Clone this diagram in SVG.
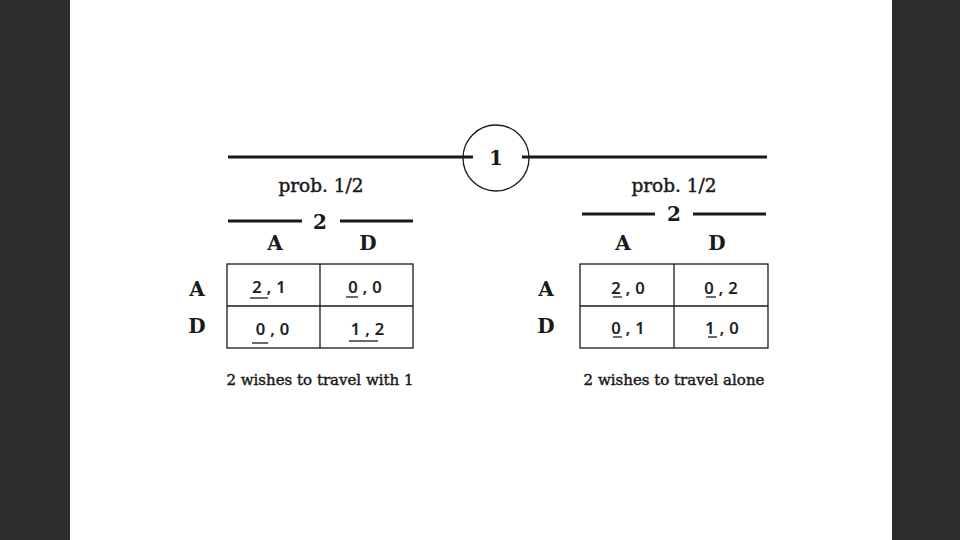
<svg xmlns="http://www.w3.org/2000/svg" width="960" height="540" viewBox="0 0 960 540">
<style>
.bar{fill:#2d2d2d}
.ln{stroke:#1a1a1a;stroke-width:3;fill:none}
.ul{stroke:#1a1a1a;stroke-width:1.3;fill:none}
.grid{stroke:#1a1a1a;stroke-width:1.3;fill:none}
.slab{font-family:"DejaVu Serif","Liberation Serif",serif;fill:#1a1a1a;stroke:#1a1a1a;stroke-width:0.45;text-anchor:middle}
.lbl{font-family:"DejaVu Serif","Liberation Serif",serif;font-weight:bold;font-size:20px;fill:#1a1a1a;text-anchor:middle}
.cell{font-family:"Open Sans","DejaVu Sans",sans-serif;font-weight:600;font-size:16.5px;fill:#1a1a1a;stroke:#1a1a1a;stroke-width:0.2;text-anchor:middle;letter-spacing:5px}
.prob{font-size:18.5px}
.cap{font-size:15px}
</style>
<rect x="0" y="0" width="960" height="540" fill="#ffffff"/>
<rect class="bar" x="0" y="0" width="70" height="540"/>
<rect class="bar" x="892" y="0" width="68" height="540"/>

<g id="connectors">
<line class="ln" x1="228" y1="157" x2="473" y2="157"/>
<line class="ln" x1="522" y1="157" x2="767" y2="157"/>
</g>

<g id="node-1">
<circle cx="496" cy="158" r="33" fill="none" stroke="#1a1a1a" stroke-width="1.3"/>
<text class="lbl" x="496" y="165">1</text>
</g>

<g id="game-left">
<text class="slab prob" x="321" y="192">prob. 1/2</text>
<line class="ln" x1="228" y1="221" x2="302" y2="221"/>
<line class="ln" x1="340" y1="221" x2="413" y2="221"/>
<text class="lbl" x="320" y="229">2</text>
<text class="lbl" x="275" y="250">A</text>
<text class="lbl" x="368" y="250">D</text>
<text class="lbl" x="197" y="296">A</text>
<text class="lbl" x="197" y="333">D</text>
<rect class="grid" x="227" y="264" width="186" height="84"/>
<line class="grid" x1="320" y1="264" x2="320" y2="348"/>
<line class="grid" x1="227" y1="306" x2="413" y2="306"/>
<text class="cell" x="271.5" y="293">2,1</text>
<text class="cell" x="367.5" y="293">0,0</text>
<text class="cell" x="275" y="335">0,0</text>
<text class="cell" x="370" y="335">1,2</text>
<line class="ul" x1="250" y1="298" x2="268" y2="298"/>
<line class="ul" x1="346" y1="297" x2="358" y2="297"/>
<line class="ul" x1="252" y1="343" x2="268" y2="343"/>
<line class="ul" x1="349" y1="341" x2="378" y2="341"/>
<text class="slab cap" x="320" y="385">2 wishes to travel with 1</text>
</g>

<g id="game-right">
<text class="slab prob" x="674" y="192">prob. 1/2</text>
<line class="ln" x1="582" y1="214" x2="655" y2="214"/>
<line class="ln" x1="693" y1="214" x2="766" y2="214"/>
<text class="lbl" x="674" y="221">2</text>
<text class="lbl" x="623" y="250">A</text>
<text class="lbl" x="717" y="250">D</text>
<text class="lbl" x="546" y="296">A</text>
<text class="lbl" x="546" y="333">D</text>
<rect class="grid" x="580" y="264" width="188" height="84"/>
<line class="grid" x1="674" y1="264" x2="674" y2="348"/>
<line class="grid" x1="580" y1="306" x2="768" y2="306"/>
<text class="cell" x="630.5" y="294">2,0</text>
<text class="cell" x="723.5" y="294">0,2</text>
<text class="cell" x="630.5" y="334">0,1</text>
<text class="cell" x="724.5" y="334">1,0</text>
<line class="ul" x1="613" y1="297" x2="622" y2="297"/>
<line class="ul" x1="706" y1="297" x2="716" y2="297"/>
<line class="ul" x1="613" y1="337" x2="622" y2="337"/>
<line class="ul" x1="708" y1="337" x2="717" y2="337"/>
<text class="slab cap" x="674" y="385">2 wishes to travel alone</text>
</g>
</svg>
